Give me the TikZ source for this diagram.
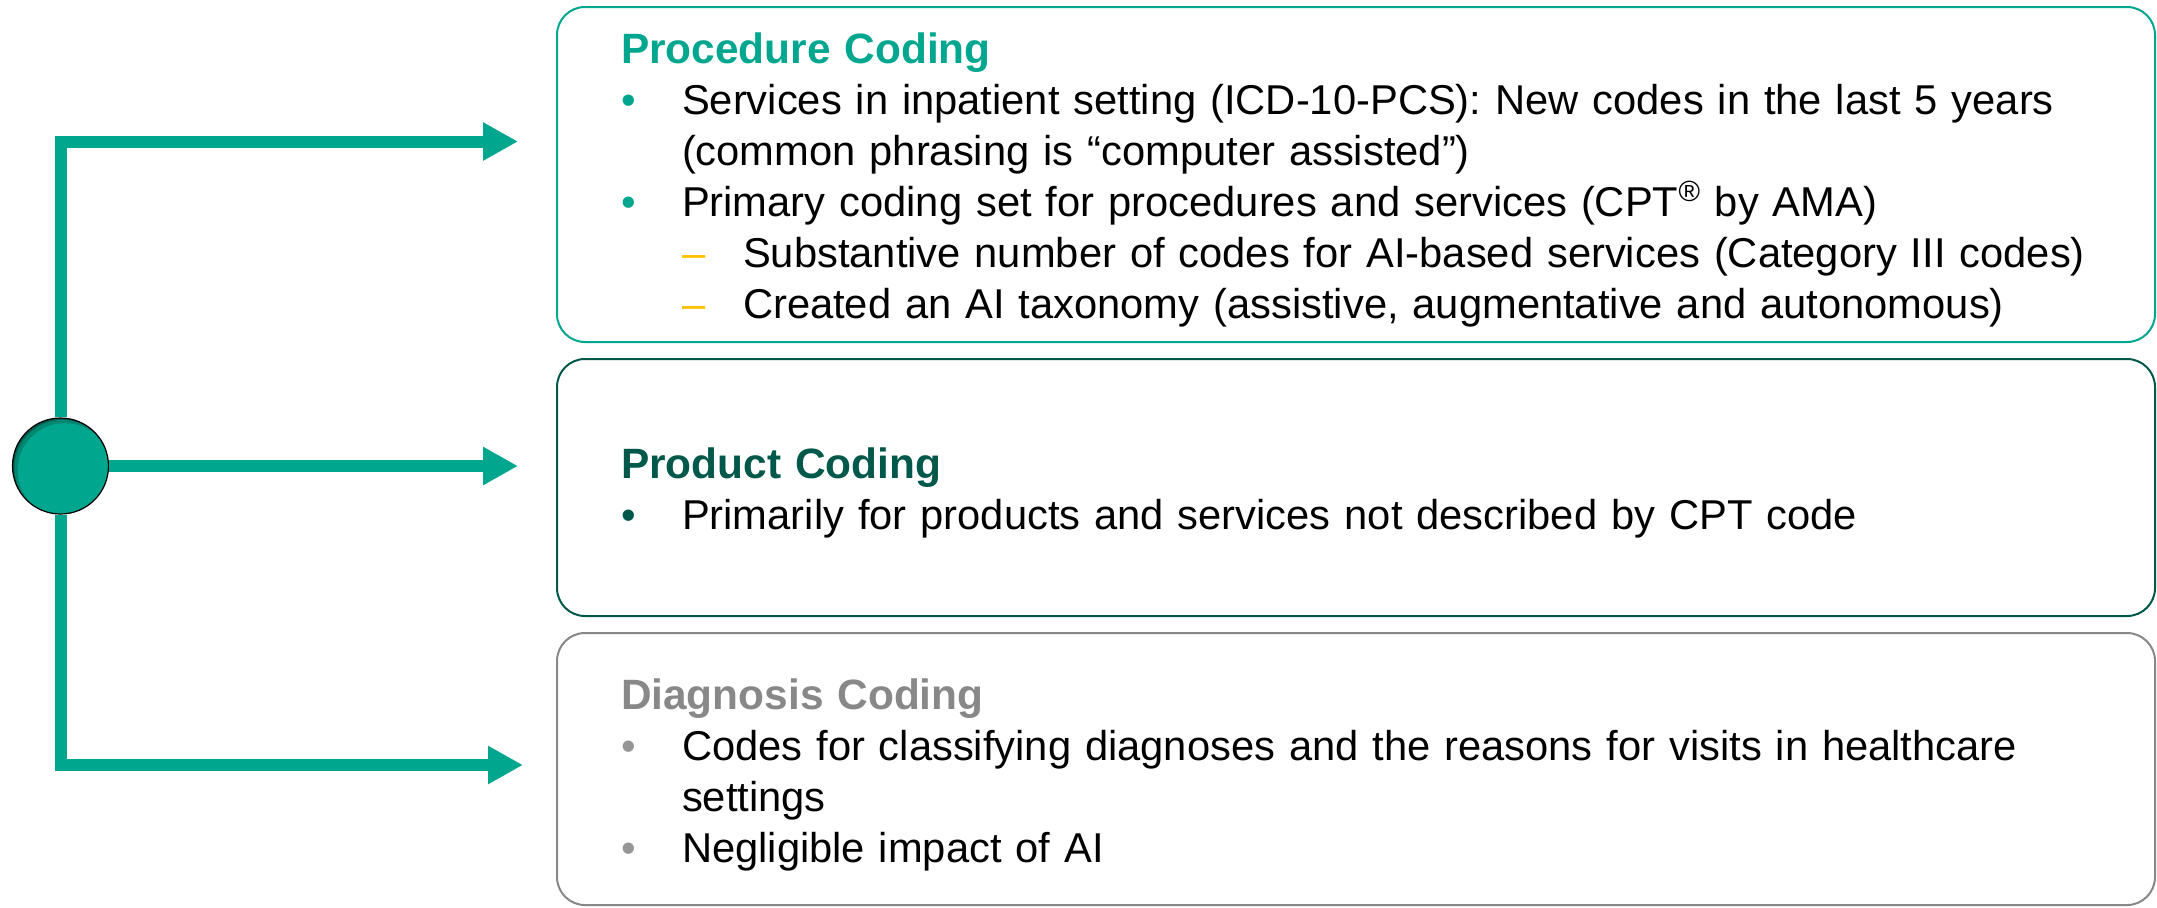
\documentclass[tikz,border=0pt]{standalone}
\usepackage{fontspec}
\setmainfont{Liberation Sans}
\usepackage{xcolor}
\usepackage{tikz}
\usetikzlibrary{positioning,arrows.meta}
\definecolor{hpegreen}{RGB}{0,167,142}
\definecolor{hpedark}{RGB}{0,88,74}
\definecolor{hpegrey}{RGB}{136,136,136}
\definecolor{bulgrey}{RGB}{150,150,150}
\definecolor{dashorange}{RGB}{255,192,0}
\definecolor{hubshade}{RGB}{0,95,80}
\definecolor{hubmid}{RGB}{0,135,114}
\newcommand{\itm}[2]{\makebox[30.5pt][l]{\textcolor{#1}{\textbullet}}\mbox{#2}}
\newcommand{\subitm}[1]{\hspace*{30.5pt}\makebox[30.5pt][l]{\textcolor{dashorange}{\textendash}}\mbox{#1}}
\newcommand{\cont}[1]{\hspace*{30.5pt}\mbox{#1}}
\newcommand{\ttl}[2]{\rule{0pt}{21pt}{\fontsize{21.2pt}{25.5pt}\selectfont\bfseries\textcolor{#1}{#2}}}
\tikzstyle{arrow} = [line width=6pt, draw=hpegreen, -{Triangle[length=17.5pt,width=18pt]}]
\tikzstyle{codebox} = [rectangle, rounded corners=14pt, line width=1pt, outer sep=0pt,
inner xsep=32pt, text width=735pt, align=left, fill=white,
font=\fontsize{20.85pt}{25.5pt}\selectfont]
\tikzstyle{hubdot} = [circle, minimum size=48pt, inner sep=0pt, fill=hpegreen, draw=black, line width=0.6pt,
path picture={
  \fill[hubshade] (path picture bounding box.center) circle (24pt);
  \fill[hubmid] ([shift={(1pt,-1pt)}]path picture bounding box.center) circle (24pt);
  \fill[hpegreen] ([shift={(2.2pt,-2.2pt)}]path picture bounding box.center) circle (23.6pt);
}]

\begin{document}
\begin{tikzpicture}
                 \useasboundingbox (0,0) rectangle (1078.5pt,-453.5pt);
                 \node (proc) [codebox, draw=hpegreen, minimum height=167.5pt, anchor=north west]
                     at (278.5pt,-3.5pt) {%
                     \ttl{hpegreen}{Procedure Coding}\\
                     \itm{hpegreen}{Services in inpatient setting (ICD-10-PCS): New codes in the last 5 years}\\
                     \cont{(common phrasing is “computer assisted”)}\\
                     \itm{hpegreen}{Primary coding set for procedures and services (CPT\textsuperscript{®} by AMA)}\\
                     \subitm{Substantive number of codes for AI-based services (Category III codes)}\\
                     \subitm{Created an AI taxonomy (assistive, augmentative and autonomous)}};
                 \node (prod) [codebox, draw=hpedark, minimum height=128.5pt, below=8.5pt of proc] {%
                     \ttl{hpedark}{Product Coding}\\
                     \itm{hpedark}{Primarily for products and services not described by CPT code}};
                 \node (diag) [codebox, draw=hpegrey, minimum height=136pt, below=8.5pt of prod] {%
                     \ttl{hpegrey}{Diagnosis Coding}\\
                     \itm{bulgrey}{Codes for classifying diagnoses and the reasons for visits in healthcare}\\
                     \cont{settings}\\
                     \itm{bulgrey}{Negligible impact of AI}};
                 \node (hub) [hubdot] at (30.25pt,-233pt) {};
                 \coordinate (t1) at (259pt,-70.75pt);
                 \coordinate (t2) at (259pt,-233pt);
                 \coordinate (t3) at (261.5pt,-382.5pt);
                 \draw [arrow] (hub) |- (t1);
                 \draw [arrow] (hub) -- (t2);
                 \draw [arrow] (hub) |- (t3);
             \end{tikzpicture}
\end{document}
